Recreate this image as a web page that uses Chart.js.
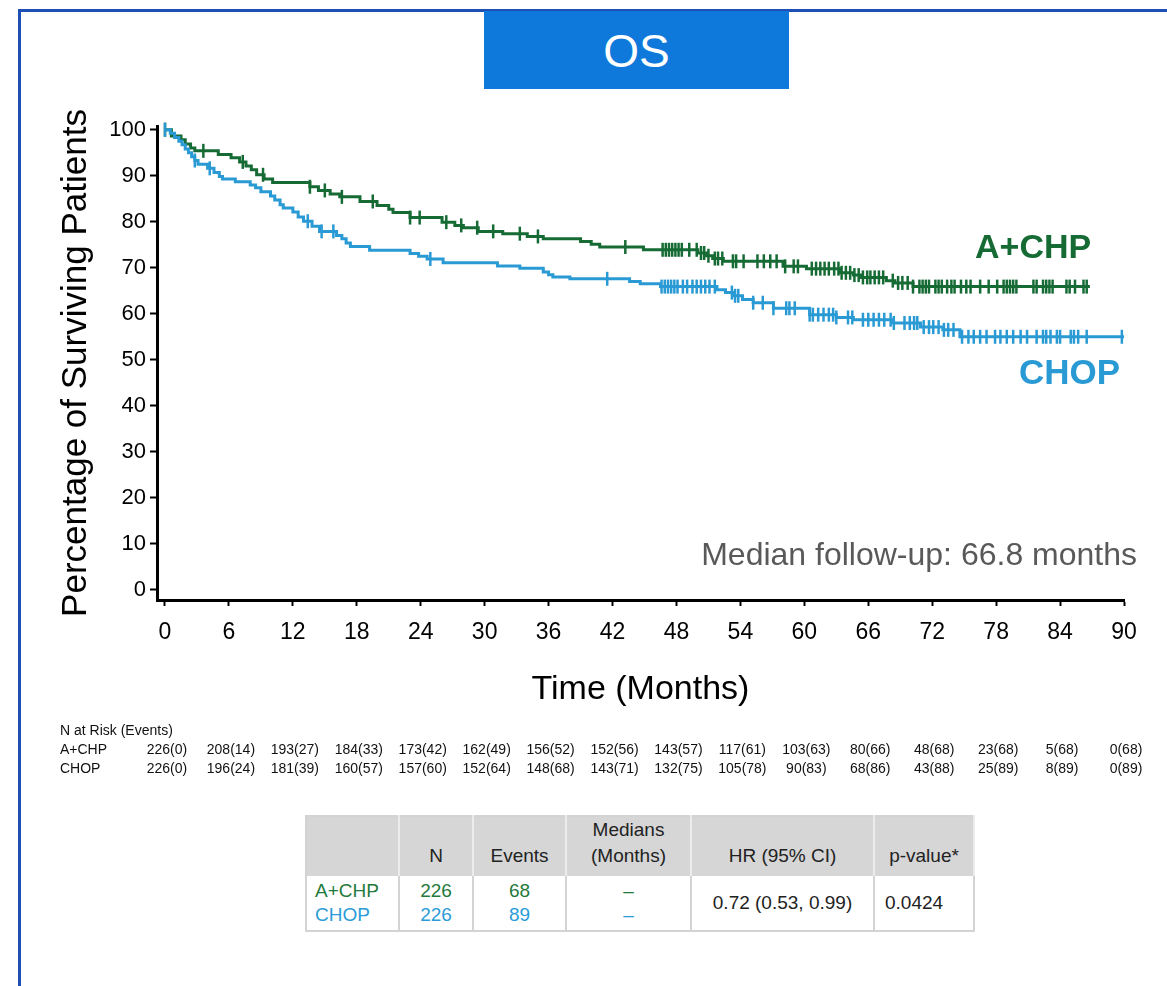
<!DOCTYPE html>
<html>
<head>
<meta charset="utf-8">
<script src="https://cdn.jsdelivr.net/npm/chart.js@4"></script>
<style>
	body { margin: 0; background: #fff; width: 1167px; height: 986px; overflow: hidden; position: relative; font-family: "Liberation Sans", Arial, sans-serif; }
	#frameTop { position: absolute; left: 18px; top: 9px; right: 0; height: 3px; background: #1d4fb4; }
	#frameLeft { position: absolute; left: 18px; top: 9px; bottom: 0; width: 3px; background: #1d4fb4; }
	#title { position: absolute; left: 484px; top: 11px; width: 305px; height: 78px; background: #0f79db; color: #fff; font-size: 46px; text-align: center; line-height: 80px; }
	#wrap { position: absolute; left: 0; top: 0; width: 1167px; height: 800px; }
	.lbl { position: absolute; white-space: nowrap; line-height: 1; }
	#lblA { left: 975px; top: 229px; font-size: 34px; font-weight: bold; color: #166b35; }
	#lblC { left: 1019px; top: 354px; font-size: 35px; font-weight: bold; color: #2a9ad4; }
	#median { right: 30px; top: 538px; font-size: 32px; color: #595959; }
	#stats { position: absolute; left: 305px; top: 815px; border-collapse: collapse; font-size: 19px; color: #222; border: 2px solid #d3d3d3; }
	#stats td { padding: 0 6px; text-align: center; box-sizing: border-box; }
	#stats tr.hd td { background: #d6d6d6; height: 60px; vertical-align: bottom; padding-bottom: 7px; border-right: 2px solid #ececec; line-height: 26px; }
	#stats tr.bd td { height: 55px; border-right: 2px solid #d3d3d3; line-height: 24px; }
	#stats tr.bd td.arm { text-align: left; padding-left: 8px; }
	.g { color: #1f7a3c; }
	.b { color: #2b9cd8; }
</style>
</head>
<body>
<div id="frameTop"></div>
<div id="frameLeft"></div>
<div id="title">OS</div>
<div id="wrap"><canvas id="os"></canvas></div>
<div class="lbl" id="lblA">A+CHP</div>
<div class="lbl" id="lblC">CHOP</div>
<div class="lbl" id="median">Median follow-up: 66.8 months</div>
<table id="stats">
	<tr class="hd">
		<td style="width:93px"></td>
		<td style="width:74px">N</td>
		<td style="width:93px">Events</td>
		<td style="width:125px">Medians<br>(Months)</td>
		<td style="width:183px">HR (95% CI)</td>
		<td style="width:100px">p-value*</td>
	</tr>
	<tr class="bd">
		<td class="arm"><span class="g">A+CHP</span><br><span class="b">CHOP</span></td>
		<td><span class="g">226</span><br><span class="b">226</span></td>
		<td><span class="g">68</span><br><span class="b">89</span></td>
		<td><span class="g">–</span><br><span class="b">–</span></td>
		<td>0.72 (0.53, 0.99)</td>
		<td style="text-align:left;padding-left:10px">0.0424</td>
	</tr>
</table>

<script>
// axis ticks
const xTicks = [0, 6, 12, 18, 24, 30, 36, 42, 48, 54, 60, 66, 72, 78, 84, 90]
const yTicks = [0, 10, 20, 30, 40, 50, 60, 70, 80, 90, 100]

// A+CHP KM steps (month, % surviving after the drop)
const achpTime = [0, 0.6, 1.5, 1.9, 2.4, 2.8, 5.0, 6.2, 7.0, 7.6, 8.1, 8.6, 9.3, 10.1, 13.6, 14.4, 15.5, 16.4, 18.3, 19.9, 21.0, 21.4, 23.0, 26.0, 27.2, 28.0, 29.4, 31.7, 34.0, 35.5, 39.0, 40.0, 40.8, 44.9, 50.0, 50.8, 51.4, 52.4, 58.0, 60.2, 63.3, 64.6, 65.3, 67.7, 68.5, 70.2, 86.8]
const achpSurv = [100, 98.6, 97.8, 96.9, 96.0, 95.4, 94.6, 93.9, 93.0, 92.1, 91.3, 90.2, 89.3, 88.5, 87.6, 86.8, 86.0, 85.4, 84.4, 83.5, 82.7, 82.0, 80.9, 79.9, 79.2, 78.7, 77.9, 77.4, 76.8, 76.3, 75.7, 75.1, 74.5, 73.9, 73.2, 72.6, 72.0, 71.4, 70.3, 69.8, 68.9, 68.4, 67.9, 67.2, 66.7, 65.9, 65.9]

// CHOP KM steps
const chopTime = [0, 0.5, 0.9, 1.3, 1.6, 1.9, 2.2, 2.5, 2.8, 3.1, 4.0, 4.6, 5.1, 5.4, 6.6, 8.0, 8.5, 9.0, 9.9, 10.3, 10.8, 11.1, 12.0, 12.5, 13.0, 13.8, 14.5, 16.1, 16.6, 17.0, 17.4, 19.2, 23.0, 23.8, 24.6, 26.1, 31.2, 33.3, 35.5, 36.0, 36.4, 38.0, 43.6, 44.6, 46.5, 51.8, 52.6, 53.3, 54.2, 55.2, 57.1, 60.5, 63.0, 64.6, 68.3, 70.9, 73.0, 74.6, 90.0]
const chopSurv = [100, 99.2, 98.3, 97.5, 96.7, 95.8, 95.0, 94.1, 93.3, 92.5, 91.6, 90.7, 89.8, 89.3, 88.7, 88.0, 87.4, 86.5, 85.6, 84.7, 83.7, 83.0, 82.1, 81.0, 80.1, 79.0, 77.9, 77.0, 76.3, 75.4, 74.6, 73.8, 73.1, 72.5, 71.9, 71.1, 70.4, 69.9, 69.1, 68.5, 68.0, 67.6, 67.0, 66.5, 65.9, 65.2, 64.6, 63.9, 63.1, 62.4, 61.2, 59.8, 59.2, 58.7, 58.0, 57.1, 56.5, 55.0, 55.0]

// censoring marks (months)
const achpCensor = [0, 3.6, 7.3, 9.2, 13.6, 15.0, 16.6, 19.5, 23.0, 23.9, 26.4, 27.8, 29.3, 30.8, 33.3, 35.0, 43.2, 46.7, 47.0, 47.3, 47.6, 47.9, 48.2, 48.5, 49.2, 49.9, 50.3, 50.6, 51.0, 51.6, 51.9, 52.3, 53.3, 53.6, 54.3, 55.6, 56.2, 56.8, 57.4, 58.2, 59.0, 59.4, 60.7, 61.1, 61.5, 61.9, 62.3, 62.8, 63.2, 63.5, 63.9, 64.3, 64.7, 65.1, 65.5, 65.9, 66.2, 66.6, 67.0, 67.4, 68.3, 68.8, 69.2, 69.7, 70.2, 70.8, 71.1, 71.4, 71.7, 72.3, 72.6, 72.9, 73.4, 73.8, 74.1, 74.7, 75.2, 75.6, 76.5, 77.3, 78.1, 78.7, 79.0, 79.3, 79.6, 79.9, 81.5, 81.8, 82.4, 82.7, 83.0, 83.3, 84.6, 84.9, 85.4, 86.2, 86.5]
const chopCensor = [0, 2.8, 4.2, 13.4, 14.7, 15.8, 24.9, 41.5, 46.6, 46.9, 47.2, 47.5, 47.8, 48.1, 48.6, 49.0, 49.5, 49.9, 50.3, 50.7, 51.1, 51.6, 53.2, 53.5, 53.8, 55.2, 56.1, 57.1, 58.3, 58.6, 59.1, 60.5, 60.8, 61.3, 61.8, 62.3, 62.7, 63.0, 64.1, 64.5, 65.5, 66.0, 66.5, 67.0, 67.5, 68.1, 68.4, 69.4, 69.9, 70.3, 70.6, 71.2, 71.7, 72.1, 72.6, 73.1, 73.5, 74.0, 74.8, 75.4, 75.9, 76.5, 77.1, 77.9, 78.4, 79.0, 79.6, 80.3, 80.9, 81.8, 82.4, 82.7, 83.1, 83.7, 84.0, 85.0, 85.3, 85.7, 86.5, 89.8]

// number at risk (events)
const riskTimes = xTicks
const achpRisk = ['226(0)', '208(14)', '193(27)', '184(33)', '173(42)', '162(49)', '156(52)', '152(56)', '143(57)', '117(61)', '103(63)', '80(66)', '48(68)', '23(68)', '5(68)', '0(68)']
const chopRisk = ['226(0)', '196(24)', '181(39)', '160(57)', '157(60)', '152(64)', '148(68)', '143(71)', '132(75)', '105(78)', '90(83)', '68(86)', '43(88)', '25(89)', '8(89)', '0(89)']

const green = '#166b35'
const blue = '#2a9ad4'
const fontFam = '"Liberation Sans", Arial, sans-serif'

const steps = (times, surv) => times.map((t, i) => ({ x: t, y: surv[i] }))

const survAt = (times, surv, t) => {
	let s = surv[0]
	for (let i = 0; i < times.length; i++) {
		if (times[i] <= t) s = surv[i]
	}
	return s
}

const marks = (cens, times, surv) => cens.map(t => ({ x: t, y: survAt(times, surv, t) }))

const riskTable = {
	id: 'riskTable',
	afterDraw(chart) {
		const ctx = chart.ctx
		const x = chart.scales.x
		ctx.save()
		ctx.font = '14px ' + fontFam
		ctx.fillStyle = '#111'
		ctx.textBaseline = 'middle'
		ctx.textAlign = 'left'
		ctx.fillText('N at Risk (Events)', 60, 731)
		ctx.fillText('A+CHP', 60, 750)
		ctx.fillText('CHOP', 60, 769)
		ctx.textAlign = 'center'
		riskTimes.forEach((t, i) => {
			const px = x.getPixelForValue(t) + 2
			ctx.fillText(achpRisk[i], px, 750)
			ctx.fillText(chopRisk[i], px, 769)
		})
		ctx.restore()
	}
}

const osChart = () => {
	const ctx = document.getElementById('os').getContext('2d')

	const chart = new Chart(ctx, {
		type: 'line',
		data: {
			datasets: [
				{
					label: 'CHOP',
					data: steps(chopTime, chopSurv),
					borderColor: blue,
					borderWidth: 3,
					stepped: true,
					pointRadius: 0,
					clip: false
				},
				{
					label: 'A+CHP',
					data: steps(achpTime, achpSurv),
					borderColor: green,
					borderWidth: 3,
					stepped: true,
					pointRadius: 0,
					clip: false
				},
				{
					type: 'scatter',
					label: 'CHOP censored',
					data: marks(chopCensor, chopTime, chopSurv),
					pointStyle: 'line',
					rotation: 90,
					pointRadius: 7,
					borderColor: blue,
					borderWidth: 2.5,
					clip: false
				},
				{
					type: 'scatter',
					label: 'A+CHP censored',
					data: marks(achpCensor, achpTime, achpSurv),
					pointStyle: 'line',
					rotation: 90,
					pointRadius: 7,
					borderColor: green,
					borderWidth: 2.5,
					clip: false
				}
			]
		},
		options: {
			responsive: false,
			animation: false,
			layout: { padding: { left: 0, right: 43, top: 126, bottom: 90 } },
			plugins: {
				legend: { display: false },
				tooltip: { enabled: false }
			},
			scales: {
				x: {
					type: 'linear',
					min: -0.75,
					max: 90,
					afterBuildTicks: s => { s.ticks = xTicks.map(v => ({ value: v })) },
					afterFit: s => { s.height = 110 },
					grid: { drawOnChartArea: false, drawTicks: true, tickLength: 6, tickWidth: 2, color: '#000' },
					border: { display: true, width: 3, color: '#000' },
					ticks: { color: '#000', font: { family: fontFam, size: 23 }, padding: 13, maxRotation: 0, autoSkip: false },
					title: { display: true, text: 'Time (Months)', color: '#000', font: { family: fontFam, size: 34 }, padding: { top: 0, bottom: 0 } }
				},
				y: {
					min: -2.2,
					max: 100.8,
					afterBuildTicks: s => { s.ticks = yTicks.map(v => ({ value: v })) },
					afterFit: s => { s.width = 157 },
					grid: { drawOnChartArea: false, drawTicks: true, tickLength: 7, tickWidth: 2, color: '#000' },
					border: { display: true, width: 3, color: '#000' },
					ticks: { color: '#000', font: { family: fontFam, size: 22 }, padding: 4 },
					title: { display: true, text: 'Percentage of Surviving Patients', color: '#000', font: { family: fontFam, size: 35 }, padding: { top: 55, bottom: 0 } }
				}
			}
		},
		plugins: [riskTable]
	})
}

document.getElementById('os').width = 1167
document.getElementById('os').height = 800
window.addEventListener('load', osChart)
</script>
</body>
</html>
